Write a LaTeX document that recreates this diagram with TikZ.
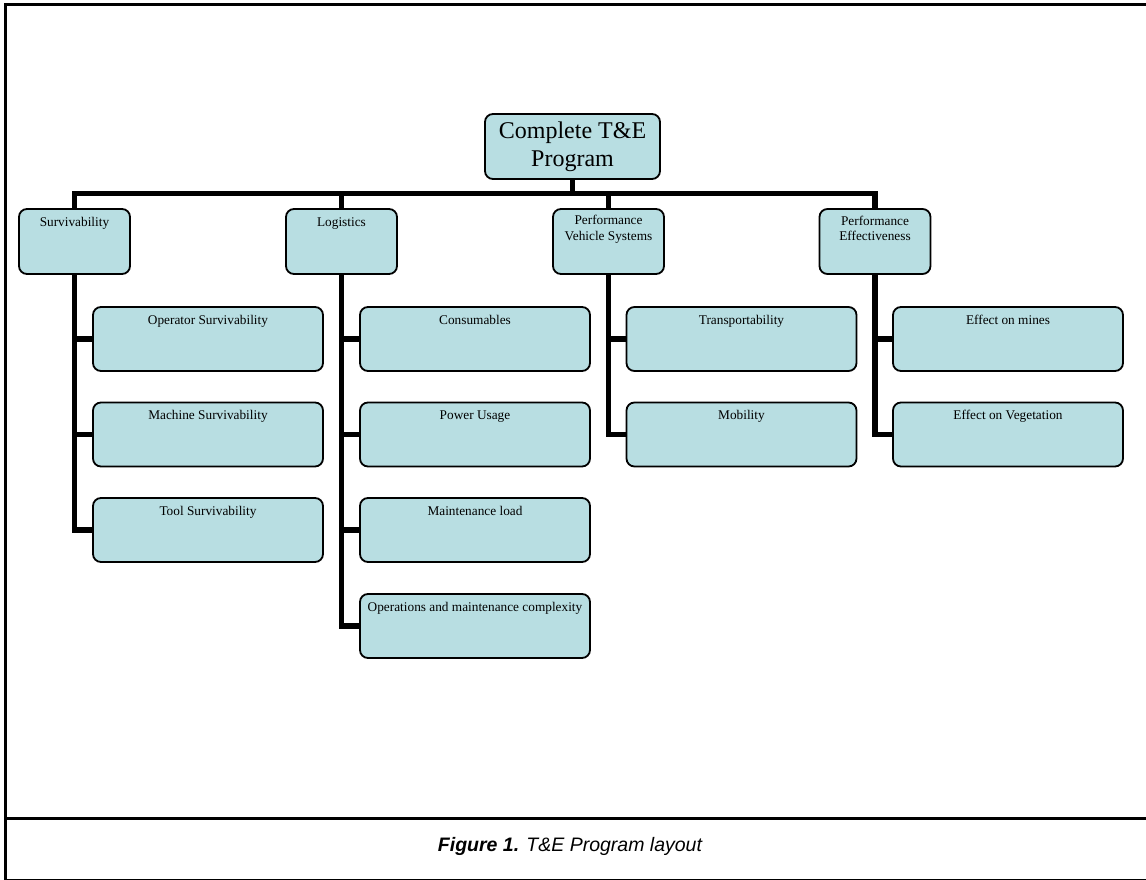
\documentclass[tikz,border=0pt]{standalone}
\usepackage{fontspec}
\setmainfont{Liberation Serif}
\newfontfamily\capfont{Liberation Sans}
\definecolor{boxfill}{RGB}{184,222,226}
\begin{document}
\begin{tikzpicture}[x=1pt,y=-1pt,
  box/.style={draw=black, line width=1.8pt, fill=boxfill, rounded corners=8pt, inner sep=0pt},
  lone/.style={box, minimum width=111pt, minimum height=65pt},
  ltwo/.style={box, minimum width=230pt, minimum height=64pt},
  small/.style={font=\fontsize{13.3}{15.5}\selectfont, align=center, inner sep=0pt, anchor=base},
  conn/.style={line width=5.5pt, line join=miter},
  frame/.style={line width=2.5pt, line join=miter}]
\useasboundingbox (0,0) rectangle (1146,880);
\clip (0,0) rectangle (1146,880);
% frame
\draw[frame] (5.3,885) -- (5.3,4.3) -- (1160,4.3);
\draw[frame] (5.3,818.5) -- (1160,818.5);
\draw[frame] (5.3,880) -- (1160,880);
% nodes
\node[box, minimum width=175pt, minimum height=65pt, font=\fontsize{24}{28}\selectfont, align=center] (top) at (572.5,146.5) {Complete T\&E\\Program};
\coordinate (bus) at (0,193.5);
\node[lone] (surv) at (74.5,241.5) {};
\node[lone] (logi) at (341.5,241.5) {};
\node[lone] (pvs) at (608.5,241.5) {};
\node[lone] (pe) at (875,241.5) {};
\node[ltwo] (opsurv) at (208,339) {};
\node[ltwo] (machsurv) at (208,434.5) {};
\node[ltwo] (toolsurv) at (208,530) {};
\node[ltwo] (cons) at (475,339) {};
\node[ltwo] (power) at (475,434.5) {};
\node[ltwo] (maint) at (475,530) {};
\node[ltwo] (opsm) at (475,626) {};
\node[ltwo] (transp) at (741.5,339) {};
\node[ltwo] (mob) at (741.5,434.5) {};
\node[ltwo] (mines) at (1008,339) {};
\node[ltwo] (veg) at (1008,434.5) {};
% connectors
\foreach \n in {surv,logi,pvs,pe}
  \draw[conn] (top.south) -- (top.south |- bus) -| (\n.north);
\foreach \p/\c in {surv/opsurv,surv/machsurv,surv/toolsurv,logi/cons,logi/power,logi/maint,logi/opsm,pvs/transp,pvs/mob,pe/mines,pe/veg}
  \draw[conn] (\p.south) |- (\c.west);
% texts
\node[small] at ([yshift=-18pt]surv.north) {Survivability};
\node[small] at ([yshift=-18pt]logi.north) {Logistics};
\node[small] at ([yshift=-32pt]pvs.north) {Performance\\Vehicle Systems};
\node[small] at ([yshift=-32.5pt]pe.north) {Performance\\Effectiveness};
\node[small] at ([yshift=-18pt]opsurv.north) {Operator Survivability};
\node[small] at ([yshift=-18pt]machsurv.north) {Machine Survivability};
\node[small] at ([yshift=-18pt]toolsurv.north) {Tool Survivability};
\node[small] at ([yshift=-18pt]cons.north) {Consumables};
\node[small] at ([yshift=-18pt]power.north) {Power Usage};
\node[small] at ([yshift=-18pt]maint.north) {Maintenance load};
\node[small] at ([yshift=-18pt]opsm.north) {Operations and maintenance complexity};
\node[small] at ([yshift=-18pt]transp.north) {Transportability};
\node[small] at ([yshift=-18pt]mob.north) {Mobility};
\node[small] at ([yshift=-18pt]mines.north) {Effect on mines};
\node[small] at ([yshift=-18pt]veg.north) {Effect on Vegetation};
% caption
\node[font=\capfont\fontsize{19.5}{23}\selectfont\itshape, anchor=base, inner sep=0pt] (cap) at (570,851) {\textbf{Figure 1.} T\&E Program layout};
\end{tikzpicture}
\end{document}
